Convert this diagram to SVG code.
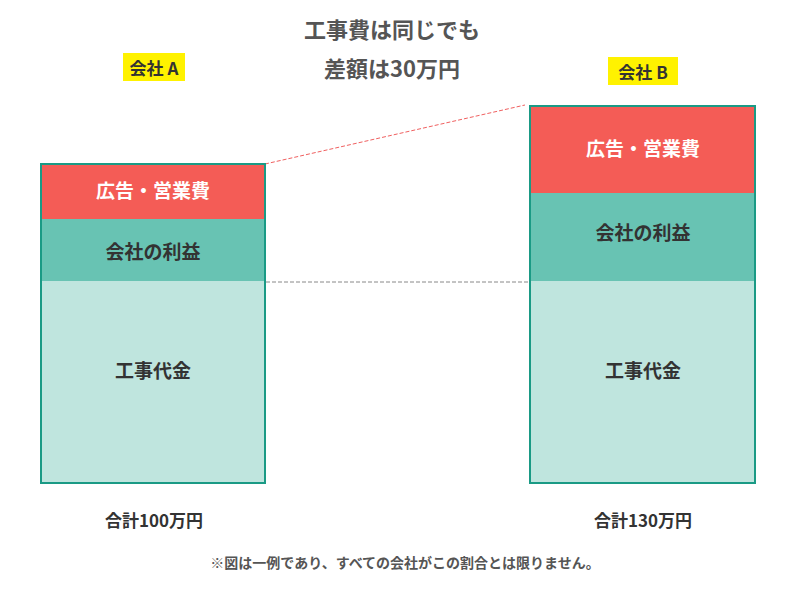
<svg xmlns="http://www.w3.org/2000/svg" width="800" height="600" viewBox="0 0 800 600">
<style>
text{font-family:"Noto Sans CJK JP","Noto Sans",sans-serif;font-weight:bold;text-anchor:middle}
.d{fill:#333}.w{fill:#fff}.g{fill:#555}
.frame{fill:none;stroke:#1a9a85;stroke-width:2}
</style>
<rect width="800" height="600" fill="#fff"/>
<text class="g" x="392" y="38" font-size="22">工事費は同じでも</text>
<text class="g" x="392" y="77" font-size="22">差額は30万円</text>
<rect x="123" y="53" width="62" height="28" fill="#fff200"/>
<text class="d" x="154" y="75" font-size="17">会社 A</text>
<rect x="608" y="57" width="70" height="28" fill="#fff200"/>
<text class="d" x="643" y="79" font-size="17">会社 B</text>
<g id="connectors">
<line x1="265" y1="164" x2="525" y2="105" stroke="#f06060" stroke-width="1" stroke-dasharray="4,2"/>
<line x1="260" y1="282" x2="530" y2="282" stroke="#888" stroke-width="1" stroke-dasharray="4,2"/>
</g>
<g id="barA">
<rect x="41" y="164" width="224" height="55" fill="#f45c56"/>
<rect x="41" y="219" width="224" height="62" fill="#68c3b3"/>
<rect x="41" y="281" width="224" height="202" fill="#bfe5de"/>
<rect class="frame" x="41" y="164" width="224" height="319"/>
<text class="w" x="153" y="198" font-size="19">広告・営業費</text>
<text class="d" x="153" y="259" font-size="19">会社の利益</text>
<text class="d" x="153" y="378" font-size="19">工事代金</text>
</g>
<g id="barB">
<rect x="530" y="106" width="225" height="87" fill="#f45c56"/>
<rect x="530" y="193" width="225" height="88" fill="#68c3b3"/>
<rect x="530" y="281" width="225" height="202" fill="#bfe5de"/>
<rect class="frame" x="530" y="106" width="225" height="377"/>
<text class="w" x="643" y="156" font-size="19">広告・営業費</text>
<text class="d" x="643" y="240" font-size="19">会社の利益</text>
<text class="d" x="643" y="378" font-size="19">工事代金</text>
</g>
<text class="d" x="154" y="527" font-size="17">合計100万円</text>
<text class="d" x="643" y="527" font-size="17">合計130万円</text>
<text class="g" x="405" y="568" font-size="14">※図は一例であり、すべての会社がこの割合とは限りません。</text>
</svg>
